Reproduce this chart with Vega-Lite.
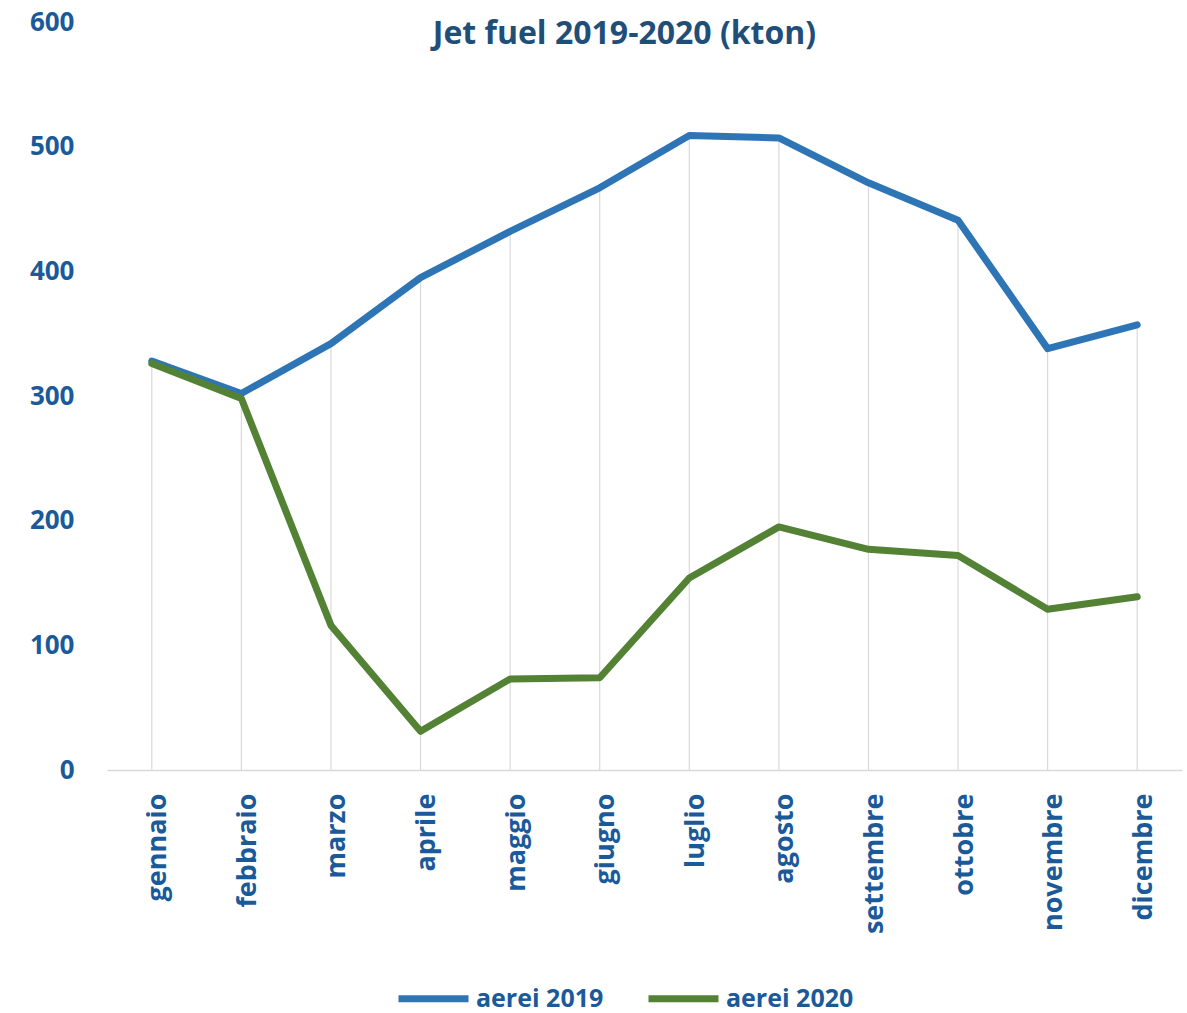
{
  "$schema": "https://vega.github.io/schema/vega-lite/v6.json",
  "width": 1075,
  "height": 748,
  "autosize": "none",
  "padding": {"left": 107, "top": 22, "right": 5, "bottom": 243},
  "background": "white",
  "config": {"view": {"stroke": null}, "font": "Open Sans"},
  "title": {
    "text": "Jet fuel 2019-2020 (kton)",
    "font": "Open Sans",
    "fontSize": 32,
    "fontWeight": "bold",
    "color": "#1f4e79",
    "anchor": "middle",
    "offset": -42,
    "dx": -20
  },
  "data": {
    "values": [
      {"mese": "gennaio", "serie": "aerei 2019", "valore": 328},
      {"mese": "febbraio", "serie": "aerei 2019", "valore": 302},
      {"mese": "marzo", "serie": "aerei 2019", "valore": 342},
      {"mese": "aprile", "serie": "aerei 2019", "valore": 395},
      {"mese": "maggio", "serie": "aerei 2019", "valore": 432},
      {"mese": "giugno", "serie": "aerei 2019", "valore": 467},
      {"mese": "luglio", "serie": "aerei 2019", "valore": 509},
      {"mese": "agosto", "serie": "aerei 2019", "valore": 507},
      {"mese": "settembre", "serie": "aerei 2019", "valore": 471},
      {"mese": "ottobre", "serie": "aerei 2019", "valore": 441},
      {"mese": "novembre", "serie": "aerei 2019", "valore": 338},
      {"mese": "dicembre", "serie": "aerei 2019", "valore": 357},
      {"mese": "gennaio", "serie": "aerei 2020", "valore": 326},
      {"mese": "febbraio", "serie": "aerei 2020", "valore": 298},
      {"mese": "marzo", "serie": "aerei 2020", "valore": 116},
      {"mese": "aprile", "serie": "aerei 2020", "valore": 31},
      {"mese": "maggio", "serie": "aerei 2020", "valore": 73},
      {"mese": "giugno", "serie": "aerei 2020", "valore": 74},
      {"mese": "luglio", "serie": "aerei 2020", "valore": 154},
      {"mese": "agosto", "serie": "aerei 2020", "valore": 195},
      {"mese": "settembre", "serie": "aerei 2020", "valore": 177},
      {"mese": "ottobre", "serie": "aerei 2020", "valore": 172},
      {"mese": "novembre", "serie": "aerei 2020", "valore": 129},
      {"mese": "dicembre", "serie": "aerei 2020", "valore": 139}
    ]
  },
  "encoding": {
    "x": {
      "field": "mese",
      "type": "nominal",
      "sort": ["gennaio", "febbraio", "marzo", "aprile", "maggio", "giugno", "luglio", "agosto", "settembre", "ottobre", "novembre", "dicembre"],
      "scale": {"type": "point", "padding": 0.5},
      "axis": {
        "title": null,
        "labelAngle": -90,
        "labelAlign": "right",
        "labelBaseline": "middle",
        "labelPadding": 23,
        "labelOffset": 6,
        "labelFontSize": 27,
        "labelFontWeight": "bold",
        "labelFont": "Open Sans",
        "labelColor": "#1a5a9a",
        "ticks": false,
        "grid": false,
        "domainColor": "#d9d9d9",
        "domainWidth": 1.5
      }
    }
  },
  "layer": [
    {
      "mark": {"type": "rule", "color": "#d9d9d9", "strokeWidth": 1.2},
      "encoding": {
        "y": {"aggregate": "max", "field": "valore", "type": "quantitative"},
        "y2": {"datum": 0}
      }
    },
    {
      "mark": {"type": "line", "strokeWidth": 7, "strokeCap": "round", "strokeJoin": "round"},
      "encoding": {
        "y": {
          "field": "valore",
          "type": "quantitative",
          "scale": {"domain": [0, 600], "nice": false},
          "axis": {
            "title": null,
            "values": [0, 100, 200, 300, 400, 500, 600],
            "grid": false,
            "domain": false,
            "ticks": false,
            "labelPadding": 33,
            "labelFontSize": 26,
            "labelFontWeight": "bold",
            "labelFont": "Open Sans",
            "labelColor": "#1a5a9a"
          }
        },
        "color": {
          "field": "serie",
          "type": "nominal",
          "scale": {"domain": ["aerei 2019", "aerei 2020"], "range": ["#2e75b6", "#548235"]},
          "legend": {
            "title": null,
            "orient": "none",
            "legendX": 288,
            "legendY": 938,
            "direction": "horizontal",
            "symbolType": "stroke",
            "symbolSize": 4900,
            "symbolStrokeWidth": 7,
            "labelFontSize": 25,
            "labelFontWeight": "bold",
            "labelFont": "Open Sans",
            "labelColor": "#1a5a9a",
            "labelOffset": 4,
            "columnPadding": 30
          }
        }
      }
    }
  ]
}
